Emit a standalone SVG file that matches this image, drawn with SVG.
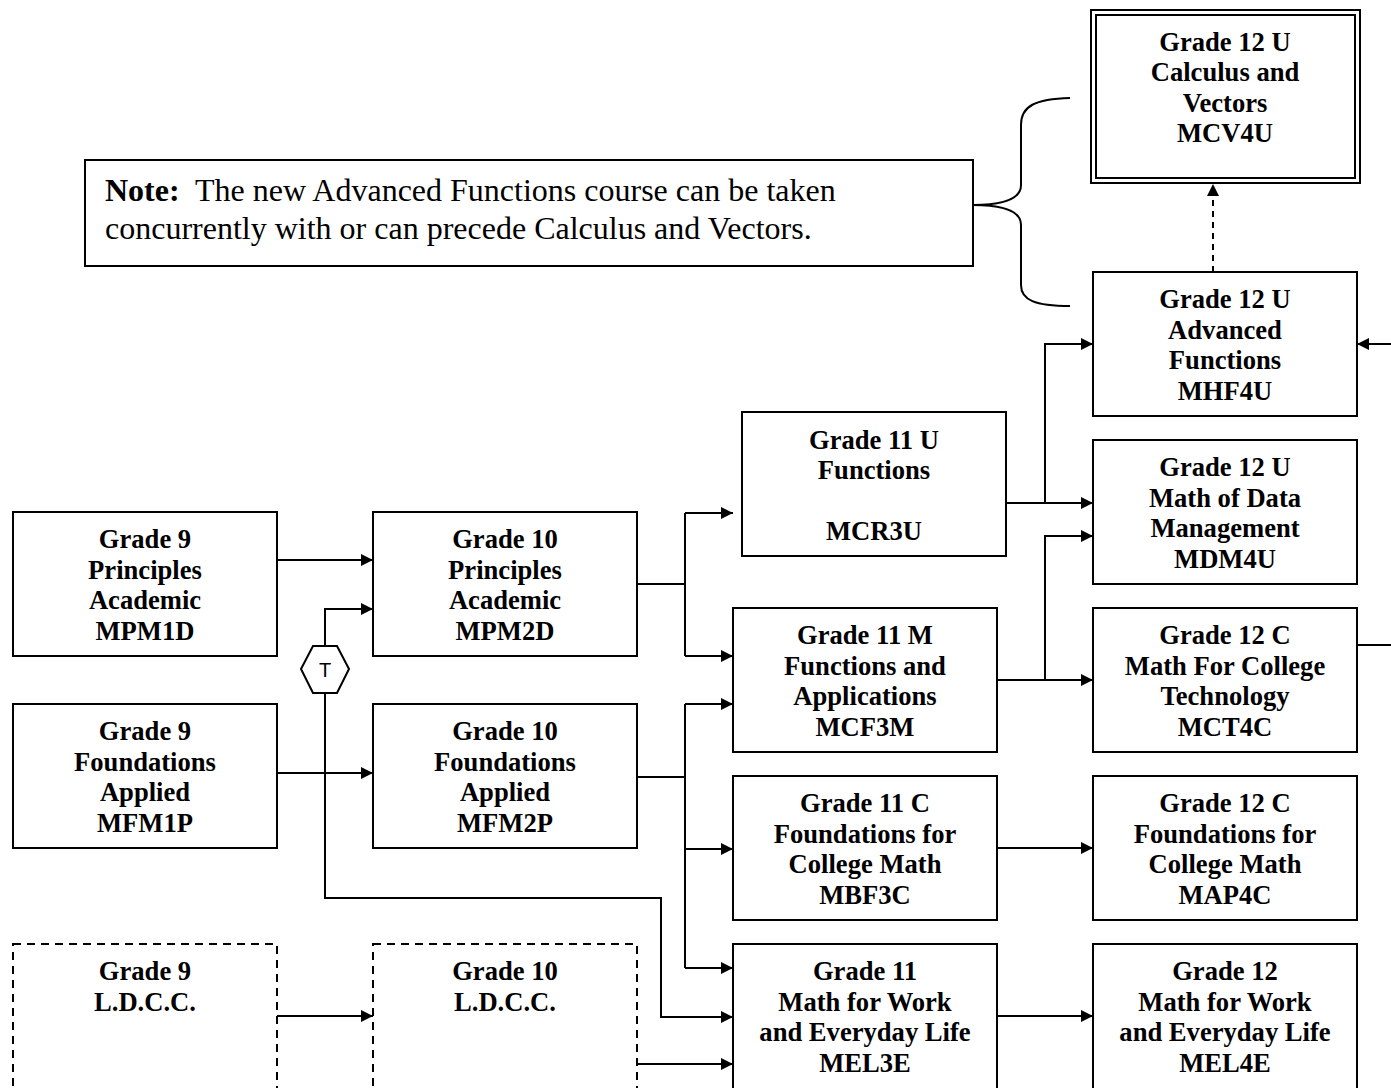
<svg xmlns="http://www.w3.org/2000/svg" width="1391" height="1088" viewBox="0 0 1391 1088">
<style>
.box{fill:#fff;stroke:#000;stroke-width:2}
.dbox{fill:#fff;stroke:#000;stroke-width:2;stroke-dasharray:8 6}
.t{font-family:"Liberation Serif","Times New Roman",serif;font-weight:bold;font-size:26.6px;text-anchor:middle;fill:#000}
.n{font-family:"Liberation Serif","Times New Roman",serif;font-size:32px;fill:#000}
.c{fill:none;stroke:#000;stroke-width:2}
</style>
<defs>
<marker id="ah" markerWidth="14" markerHeight="14" refX="12" refY="6" orient="auto" markerUnits="userSpaceOnUse">
<path d="M0,0 L12,6 L0,12 Z" fill="#000"/>
</marker>
</defs>
<rect width="1391" height="1088" fill="#fff"/>

<g id="connectors">
<path class="c" d="M277,560 H373" marker-end="url(#ah)"/>
<path class="c" d="M277,773 H373" marker-end="url(#ah)"/>
<path class="c" d="M277,1016 H373" marker-end="url(#ah)"/>
<path class="c" d="M325,646 V609 H373" marker-end="url(#ah)"/>
<path class="c" d="M325,693 V898 H661 V1017 H733" marker-end="url(#ah)"/>
<path class="c" d="M637,584 H685"/>
<path class="c" d="M685,513 V656"/>
<path class="c" d="M685,513 H733" marker-end="url(#ah)"/>
<path class="c" d="M685,656 H733" marker-end="url(#ah)"/>
<path class="c" d="M637,777 H685"/>
<path class="c" d="M685,704 V968"/>
<path class="c" d="M685,704 H733" marker-end="url(#ah)"/>
<path class="c" d="M685,849 H733" marker-end="url(#ah)"/>
<path class="c" d="M685,968 H733" marker-end="url(#ah)"/>
<path class="c" d="M637,1064 H733" marker-end="url(#ah)"/>
<path class="c" d="M996,503 H1093" marker-end="url(#ah)"/>
<path class="c" d="M1045,503 V344 H1093" marker-end="url(#ah)"/>
<path class="c" d="M997,680 H1093" marker-end="url(#ah)"/>
<path class="c" d="M1045,680 V536 H1093" marker-end="url(#ah)"/>
<path class="c" d="M997,848 H1093" marker-end="url(#ah)"/>
<path class="c" d="M997,1016 H1093" marker-end="url(#ah)"/>
<path class="c" d="M1213,272 V184" stroke-dasharray="6 5" marker-end="url(#ah)"/>
<path class="c" d="M1391,344 H1357" marker-end="url(#ah)"/>
<path class="c" d="M1357,645 H1391"/>
<path class="c" d="M1070,98 C1035,99 1021,106 1021,125 V185 C1021,198 1005,205 973,205 C1005,205 1021,212 1021,225 V285 C1021,300 1035,306 1070,306"/>
</g>

<g id="note">
<rect class="box" x="85" y="160" width="888" height="106"/>
<text class="n" x="105" y="201" xml:space="preserve"><tspan font-weight="bold">Note:</tspan>  The new Advanced Functions course can be taken</text>
<text class="n" x="105" y="239">concurrently with or can precede Calculus and Vectors.</text>
</g>

<g id="hexT">
<polygon points="301,669 313,646 337,646 349,669 337,693 313,693" fill="#fff" stroke="#000" stroke-width="2"/>
<text x="325" y="677" font-family="Liberation Sans, Arial, sans-serif" font-size="20" text-anchor="middle">T</text>
</g>

<g id="g9p">
<rect class="box" x="13" y="512" width="264" height="144"/>
<text class="t"><tspan x="145" y="548">Grade 9</tspan><tspan x="145" y="579">Principles</tspan><tspan x="145" y="609">Academic</tspan><tspan x="145" y="640">MPM1D</tspan></text>
</g>
<g id="g10p">
<rect class="box" x="373" y="512" width="264" height="144"/>
<text class="t"><tspan x="505" y="548">Grade 10</tspan><tspan x="505" y="579">Principles</tspan><tspan x="505" y="609">Academic</tspan><tspan x="505" y="640">MPM2D</tspan></text>
</g>
<g id="g9f">
<rect class="box" x="13" y="704" width="264" height="144"/>
<text class="t"><tspan x="145" y="740">Grade 9</tspan><tspan x="145" y="771">Foundations</tspan><tspan x="145" y="801">Applied</tspan><tspan x="145" y="832">MFM1P</tspan></text>
</g>
<g id="g10f">
<rect class="box" x="373" y="704" width="264" height="144"/>
<text class="t"><tspan x="505" y="740">Grade 10</tspan><tspan x="505" y="771">Foundations</tspan><tspan x="505" y="801">Applied</tspan><tspan x="505" y="832">MFM2P</tspan></text>
</g>
<g id="g9l">
<rect class="dbox" x="13" y="944" width="264" height="150"/>
<text class="t"><tspan x="145" y="980">Grade 9</tspan><tspan x="145" y="1011">L.D.C.C.</tspan></text>
</g>
<g id="g10l">
<rect class="dbox" x="373" y="944" width="264" height="150"/>
<text class="t"><tspan x="505" y="980">Grade 10</tspan><tspan x="505" y="1011">L.D.C.C.</tspan></text>
</g>

<g id="mcr3u">
<rect class="box" x="742" y="412" width="264" height="144"/>
<text class="t"><tspan x="874" y="449">Grade 11 U</tspan><tspan x="874" y="479">Functions</tspan><tspan x="874" y="540">MCR3U</tspan></text>
</g>
<g id="mcf3m">
<rect class="box" x="733" y="608" width="264" height="144"/>
<text class="t"><tspan x="865" y="644">Grade 11 M</tspan><tspan x="865" y="675">Functions and</tspan><tspan x="865" y="705">Applications</tspan><tspan x="865" y="736">MCF3M</tspan></text>
</g>
<g id="mbf3c">
<rect class="box" x="733" y="776" width="264" height="144"/>
<text class="t"><tspan x="865" y="812">Grade 11 C</tspan><tspan x="865" y="843">Foundations for</tspan><tspan x="865" y="873">College Math</tspan><tspan x="865" y="904">MBF3C</tspan></text>
</g>
<g id="mel3e">
<rect class="box" x="733" y="944" width="264" height="150"/>
<text class="t"><tspan x="865" y="980">Grade 11</tspan><tspan x="865" y="1011">Math for Work</tspan><tspan x="865" y="1041">and Everyday Life</tspan><tspan x="865" y="1072">MEL3E</tspan></text>
</g>

<g id="mcv4u">
<rect class="box" x="1091" y="10" width="269" height="173"/>
<rect class="box" x="1096" y="15" width="259" height="163"/>
<text class="t"><tspan x="1225" y="51">Grade 12 U</tspan><tspan x="1225" y="81">Calculus and</tspan><tspan x="1225" y="112">Vectors</tspan><tspan x="1225" y="142">MCV4U</tspan></text>
</g>
<g id="mhf4u">
<rect class="box" x="1093" y="272" width="264" height="144"/>
<text class="t"><tspan x="1225" y="308">Grade 12 U</tspan><tspan x="1225" y="339">Advanced</tspan><tspan x="1225" y="369">Functions</tspan><tspan x="1225" y="400">MHF4U</tspan></text>
</g>
<g id="mdm4u">
<rect class="box" x="1093" y="440" width="264" height="144"/>
<text class="t"><tspan x="1225" y="476">Grade 12 U</tspan><tspan x="1225" y="507">Math of Data</tspan><tspan x="1225" y="537">Management</tspan><tspan x="1225" y="568">MDM4U</tspan></text>
</g>
<g id="mct4c">
<rect class="box" x="1093" y="608" width="264" height="144"/>
<text class="t"><tspan x="1225" y="644">Grade 12 C</tspan><tspan x="1225" y="675">Math For College</tspan><tspan x="1225" y="705">Technology</tspan><tspan x="1225" y="736">MCT4C</tspan></text>
</g>
<g id="map4c">
<rect class="box" x="1093" y="776" width="264" height="144"/>
<text class="t"><tspan x="1225" y="812">Grade 12 C</tspan><tspan x="1225" y="843">Foundations for</tspan><tspan x="1225" y="873">College Math</tspan><tspan x="1225" y="904">MAP4C</tspan></text>
</g>
<g id="mel4e">
<rect class="box" x="1093" y="944" width="264" height="150"/>
<text class="t"><tspan x="1225" y="980">Grade 12</tspan><tspan x="1225" y="1011">Math for Work</tspan><tspan x="1225" y="1041">and Everyday Life</tspan><tspan x="1225" y="1072">MEL4E</tspan></text>
</g>
</svg>
